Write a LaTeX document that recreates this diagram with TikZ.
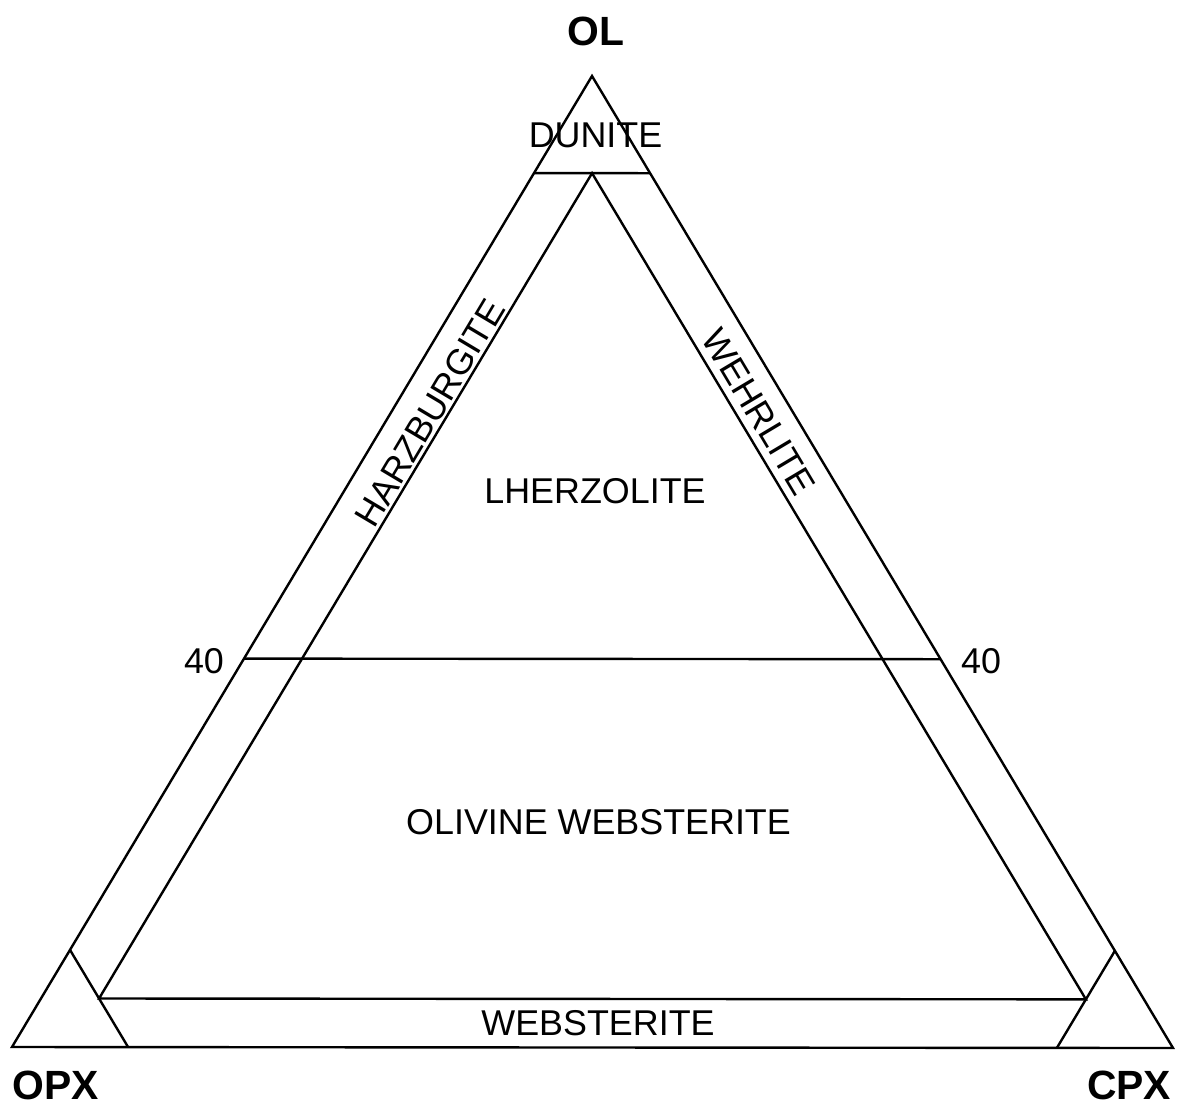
\documentclass[tikz,border=0pt]{standalone}
\usepackage{fontspec}
\setmainfont{Liberation Sans}
\begin{document}
\begin{tikzpicture}[x=1bp,y=-1bp, line width=2.4bp, line join=miter,
  lbl/.style={font=\fontsize{36}{36}\selectfont, inner sep=0pt, anchor=base},
  rlbl/.style={font=\fontsize{36}{36}\selectfont, inner sep=0pt, anchor=center},
  vtx/.style={font=\bfseries\fontsize{41}{41}\selectfont, inner sep=0pt, anchor=base}]
\useasboundingbox (0,0) rectangle (1183,1107);
\coordinate (A) at (592,76);
\coordinate (L) at (12,1047);
\coordinate (R) at (1173,1048);
% outer triangle
\draw (A) -- (L) -- (R) -- cycle;
% dunite line (ol = 90)
\coordinate (d1) at (barycentric cs:A=0.9,L=0.1,R=0);
\coordinate (d2) at (barycentric cs:A=0.9,L=0,R=0.1);
\draw (d1) -- (d2);
% inner lines (cpx = 5, opx = 5) and websterite line (ol = 5)
\coordinate (ia) at (barycentric cs:A=0.9,L=0.05,R=0.05);
\coordinate (il) at (barycentric cs:A=0.05,L=0.9,R=0.05);
\coordinate (ir) at (barycentric cs:A=0.05,L=0.05,R=0.9);
\draw (il) -- (ia) -- (ir) -- cycle;
% 40 line
\coordinate (f1) at (barycentric cs:A=0.4,L=0.6,R=0);
\coordinate (f2) at (barycentric cs:A=0.4,L=0,R=0.6);
\draw (f1) -- (f2);
% pyroxenite corners
\coordinate (o1) at (barycentric cs:A=0.1,L=0.9,R=0);
\coordinate (o2) at (barycentric cs:A=0,L=0.9,R=0.1);
\draw (o1) -- (o2);
\coordinate (c1) at (barycentric cs:A=0.1,L=0,R=0.9);
\coordinate (c2) at (barycentric cs:A=0,L=0.1,R=0.9);
\draw (c1) -- (c2);
% labels
\node[vtx] (ol) at (596,45) {OL};
\node[vtx] (opx) at (56,1099) {OPX};
\node[vtx] (cpx) at (1129,1099) {CPX};
\node[lbl] (dun) at (595.5,147) {DUNITE};
\node[lbl] (lhz) at (595,503) {LHERZOLITE};
\node[lbl] (olw) at (598.5,834) {OLIVINE WEBSTERITE};
\node[lbl] (web) at (598,1035) {WEBSTERITE};
\node[lbl] (n40l) at (204,673) {40};
\node[lbl] (n40r) at (981,673) {40};
\node[rlbl, rotate=59.2] (hzb) at (430,413) {HARZBURGITE};
\node[rlbl, rotate=-59.2] (weh) at (759,412) {WEHRLITE};
\end{tikzpicture}
\end{document}
